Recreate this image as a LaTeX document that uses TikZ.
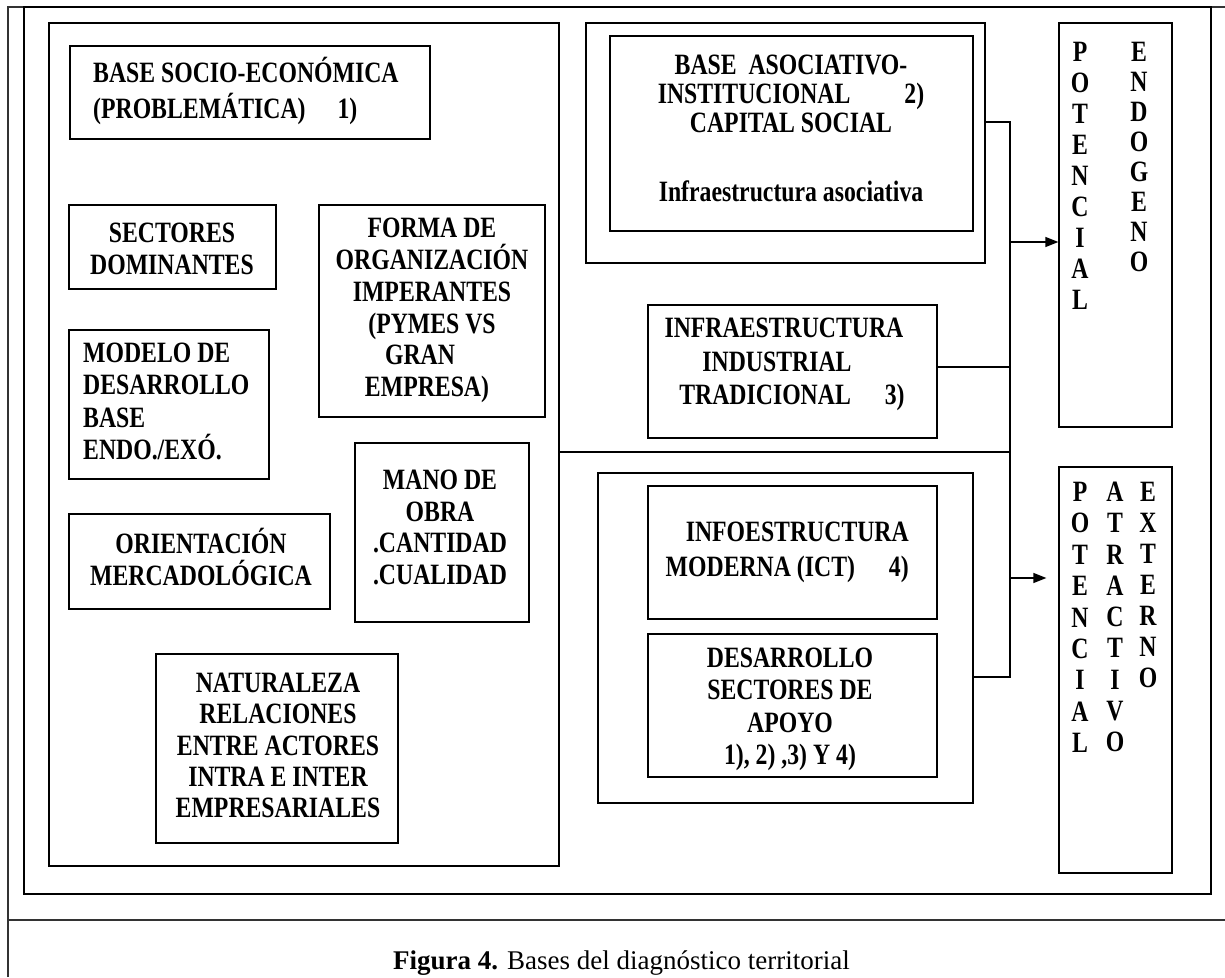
\documentclass[tikz,border=0pt]{standalone}
\usepackage{fontspec}
\usetikzlibrary{arrows.meta}
\setmainfont{Liberation Serif}
\newfontfamily\boxfont{Liberation Serif}[FakeStretch=0.805]
\newfontfamily\capfont{Liberation Serif}

\begin{document}
\begin{tikzpicture}[x=1pt,y=-1pt,
  rule/.style={line width=2.2pt, draw=black!80},
  box/.style={draw=black, line width=1.3pt, inner sep=0pt},
  wire/.style={draw=black, line width=1.3pt},
  arr/.style={wire, -{Triangle[length=13pt,width=10pt]}},
  txt/.style={inner sep=0pt, align=center, font=\boxfont\bfseries\fontsize{29.5}{31.5}\selectfont},
  linesep/.style={font=\boxfont\bfseries\fontsize{29.5}{#1}\selectfont}
]
\useasboundingbox (0,0) rectangle (1225,977);

% table rules around the figure and its caption
\draw[rule] (8,977) -- (8,7) -- (1225,7);
\draw[rule] (8,920) -- (1225,920);

% frames
\node[box, minimum width=1187pt, minimum height=887pt] (frame) at (617.5,450.5) {};
\node[box, minimum width=510pt, minimum height=843pt] (bigL) at (304,444.5) {};

% left block
\node[box, minimum width=360pt, minimum height=93pt] (socio) at (250,92.5) {};
\node[box, minimum width=207pt, minimum height=84pt] (sect) at (172.5,247) {};
\node[box, minimum width=226pt, minimum height=212pt] (forma) at (432,311) {};
\node[box, minimum width=200pt, minimum height=149pt] (modelo) at (169,404.5) {};
\node[box, minimum width=174pt, minimum height=179pt] (mano) at (442,532.5) {};
\node[box, minimum width=261pt, minimum height=95pt] (orient) at (199.5,561.5) {};
\node[box, minimum width=242pt, minimum height=189pt] (natur) at (277,748.5) {};

% right block
\node[box, minimum width=399pt, minimum height=240pt] (asocO) at (785.5,143) {};
\node[box, minimum width=363pt, minimum height=195pt] (asocI) at (791.5,133.5) {};
\node[box, minimum width=289pt, minimum height=133pt] (infra) at (792.5,371.5) {};
\node[box, minimum width=375pt, minimum height=330pt] (grp) at (785.5,638) {};
\node[box, minimum width=289pt, minimum height=133pt] (infoe) at (792.5,552.5) {};
\node[box, minimum width=289pt, minimum height=143pt] (desa) at (792.5,705.5) {};

% result columns
\node[box, minimum width=113pt, minimum height=404pt] (endo) at (1115.5,225) {};
\node[box, minimum width=113pt, minimum height=406pt] (exo) at (1115.5,670) {};

% texts
\node[txt, anchor=west, align=left, linesep=36] (socioT) at (93,90.5)
  {BASE SOCIO-ECONÓMICA\\(PROBLEMÁTICA)\kern32pt 1)};
\node[txt, linesep=32] (sectT) at (172,249) {SECTORES\\DOMINANTES};
\node[txt, linesep=31.8] (formaT) at (432,310.5)
  {FORMA DE\\ORGANIZACIÓN\\IMPERANTES\\(PYMES VS\\GRAN\kern24pt\\EMPRESA)\kern10pt};
\node[txt, anchor=west, align=left, linesep=32.3] (modeloT) at (83,401.5)
  {MODELO DE\\DESARROLLO\\BASE\\ENDO./EXÓ.};
\node[txt, linesep=31.7] (manoT) at (440,527.5) {MANO DE\\OBRA\\.CANTIDAD\\.CUALIDAD};
\node[txt, linesep=32] (orientT) at (201,556.5) {ORIENTACIÓN\\MERCADOLÓGICA};
\node[txt, linesep=31.25] (naturT) at (278,745.5)
  {NATURALEZA\\RELACIONES\\ENTRE ACTORES\\INTRA E INTER\\EMPRESARIALES};

\node[txt, linesep=29] (asocT) at (791,128.5)
  {BASE\ \ ASOCIATIVO-\\INSTITUCIONAL\kern54pt 2)\\CAPITAL SOCIAL\\[40pt]Infraestructura asociativa};
\node[txt, linesep=33.5] (infraT) at (784,364.5)
  {INFRAESTRUCTURA\\INDUSTRIAL\kern14pt\\\kern16pt TRADICIONAL\kern34pt 3)};
\node[txt, anchor=east, align=right, linesep=35] (infoeT) at (909,552.5)
  {INFOESTRUCTURA\\MODERNA (ICT)\kern34pt 4)};
\node[txt, linesep=32.3] (desaT) at (790,709.5)
  {DESARROLLO\\SECTORES DE\\APOYO\\1), 2) ,3) Y 4)};

\node[txt, linesep=31] (endoA) at (1080,176) {P\\O\\T\\E\\N\\C\\I\\A\\L};
\node[txt, linesep=30] (endoB) at (1139,157) {E\\N\\D\\O\\G\\E\\N\\O};
\node[txt, linesep=31.4] (exoA) at (1080,617.5) {P\\O\\T\\E\\N\\C\\I\\A\\L};
\node[txt, linesep=31.25] (exoB) at (1115,617) {A\\T\\R\\A\\C\\T\\I\\V\\O};
\node[txt, linesep=31] (exoC) at (1148,585) {E\\X\\T\\E\\R\\N\\O};

% connectors: a vertical bus collecting the blocks
\coordinate (busTop) at (1010,122);
\coordinate (busBot) at (1010,677);
\coordinate (busI) at (1010,367);
\coordinate (busL) at (1010,452);
\coordinate (busE) at (1010,242);
\coordinate (busX) at (1010,578);
\draw[wire] (asocO.east |- busTop) -- (busTop) -- (busBot) -- (grp.east |- busBot);
\draw[wire] (infra.east |- busI) -- (busI);
\draw[wire] (bigL.east |- busL) -- (busL);
\draw[arr] (busE) -- (endo.west |- busE);
\draw[arr, shorten >=12pt] (busX) -- (exo.west |- busX);

% caption
\node[inner sep=0pt, anchor=base, font=\capfont\fontsize{27}{32}\selectfont] (caption) at (621.5,969)
  {\textbf{Figura 4.} Bases del diagnóstico territorial};
\end{tikzpicture}
\end{document}
